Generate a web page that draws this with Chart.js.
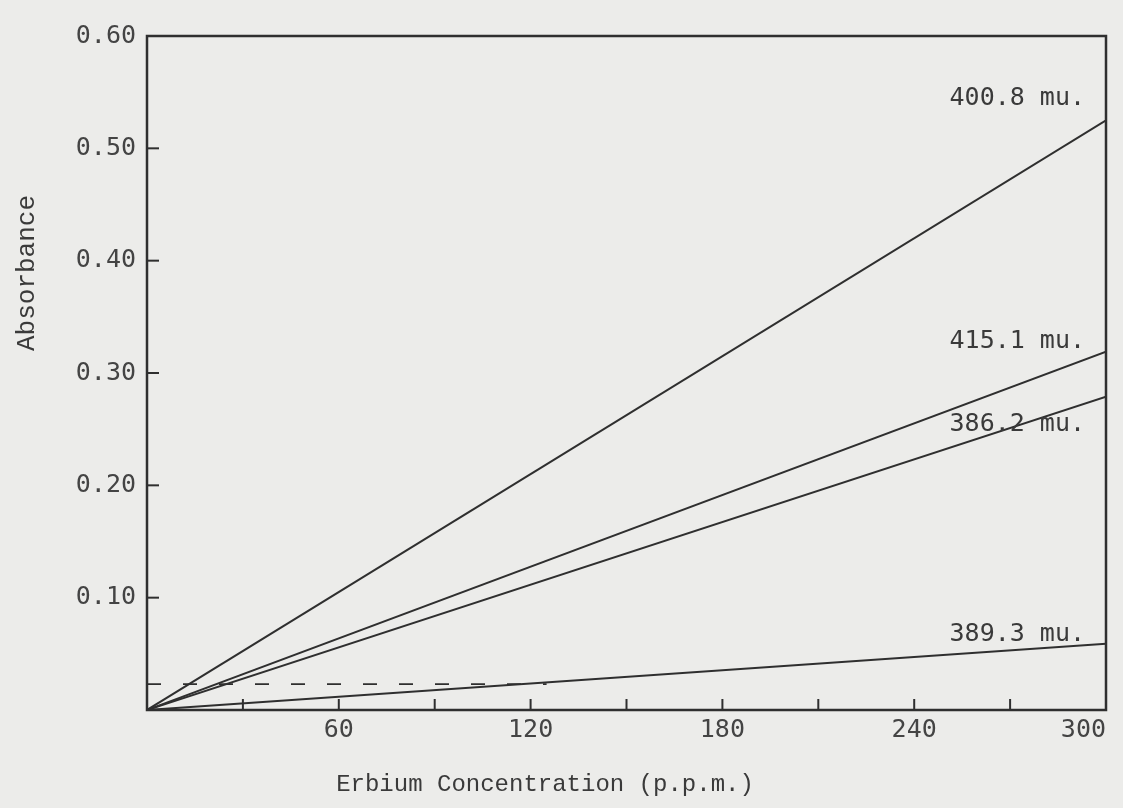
<!DOCTYPE html>
<html>
<head>
<meta charset="utf-8">
<script src="https://cdn.jsdelivr.net/npm/chart.js@4.4.1/dist/chart.umd.min.js"></script>
<style>
  html, body { margin: 0; padding: 0; background: #ececea; }
  #wrap { width: 1123px; height: 808px; position: relative; }
</style>
</head>
<body>
<div id="wrap"><canvas id="chart" width="1123" height="808"></canvas></div>
<script>
// erbium calibration lines
const concentration = [0, 300];
const abs4008 = [0, 0.525];
const abs4151 = [0, 0.319];
const abs3862 = [0, 0.279];
const abs3893 = [0, 0.059];
const blankConc = [0, 125];
const blankAbs = [0.023, 0.023];
const seriesLabels = ["400.8 mu.", "415.1 mu.", "386.2 mu.", "389.3 mu."];
const xTickLabels = [60, 120, 180, 240, 300];
const yTickLabels = [0.1, 0.2, 0.3, 0.4, 0.5, 0.6];

const ink = "#2f2f2f";
const toPoints = (xs, ys) => xs.map((x, i) => ({ x, y: ys[i] }));

// label offsets (px) relative to where each line meets the right edge
const labelShift = [-22, -10, 28, -9];

const paperPlugin = {
  id: "paper",
  beforeDraw(chart) {
    const { ctx, width, height } = chart;
    ctx.save();
    ctx.fillStyle = "#ececea";
    ctx.fillRect(0, 0, width, height);
    ctx.restore();
  },
  afterDraw(chart) {
    const { ctx, chartArea: a, scales } = chart;
    ctx.save();
    ctx.strokeStyle = ink;
    ctx.lineWidth = 2.5;
    ctx.strokeRect(a.left, a.top, a.right - a.left, a.bottom - a.top);

    // tick marks point inward
    ctx.lineWidth = 2;
    scales.x.ticks.forEach((t) => {
      if (t.value <= 0 || t.value >= 300) return;
      const px = scales.x.getPixelForValue(t.value);
      ctx.beginPath();
      ctx.moveTo(px, a.bottom);
      ctx.lineTo(px, a.bottom - 11);
      ctx.stroke();
    });
    scales.y.ticks.forEach((t) => {
      if (t.value <= 0 || t.value >= 0.59) return;
      const py = scales.y.getPixelForValue(t.value);
      ctx.beginPath();
      ctx.moveTo(a.left, py);
      ctx.lineTo(a.left + 12, py);
      ctx.stroke();
    });

    // wavelength labels at line ends
    ctx.fillStyle = "#3a3a3a";
    ctx.font = "25px 'DejaVu Sans Mono'";
    ctx.textAlign = "right";
    ctx.textBaseline = "middle";
    chart.data.datasets.slice(0, 4).forEach((ds, i) => {
      const end = ds.data[ds.data.length - 1];
      const py = scales.y.getPixelForValue(end.y) + labelShift[i];
      ctx.fillText(ds.label, scales.x.getPixelForValue(end.x) - 21, py);
    });

    // axis titles
    ctx.font = "24px 'Liberation Mono'";
    ctx.textAlign = "center";
    ctx.fillText("Erbium Concentration (p.p.m.)", 545, 785);
    ctx.translate(27, 273);
    ctx.rotate(-Math.PI / 2);
    ctx.font = "26px 'Liberation Mono'";
    ctx.fillText("Absorbance", 0, 0);
    ctx.restore();
  },
};

const lineStyle = { borderColor: ink, borderWidth: 2, pointRadius: 0, fill: false };

new Chart(document.getElementById("chart"), {
  type: "line",
  data: {
    datasets: [
      { label: seriesLabels[0], data: toPoints(concentration, abs4008), ...lineStyle },
      { label: seriesLabels[1], data: toPoints(concentration, abs4151), ...lineStyle },
      { label: seriesLabels[2], data: toPoints(concentration, abs3862), ...lineStyle },
      { label: seriesLabels[3], data: toPoints(concentration, abs3893), ...lineStyle },
      { label: "blank", data: toPoints(blankConc, blankAbs), ...lineStyle, borderWidth: 1.8, borderDash: [14, 22] },
    ],
  },
  options: {
    responsive: false,
    animation: false,
    layout: { padding: { left: 0, top: 36, right: 17, bottom: 0 } },
    plugins: { legend: { display: false }, tooltip: { enabled: false } },
    scales: {
      x: {
        type: "linear",
        min: 0,
        max: 300,
        afterFit: (s) => {
          s.height = 98;
          s.paddingLeft = 0;
          s.paddingRight = 0;
        },
        afterBuildTicks: (s) => {
          s.ticks = [0, 30, 60, 90, 120, 150, 180, 210, 240, 270, 300].map((v) => ({ value: v }));
        },
        ticks: {
          color: "#444",
          font: { family: "'DejaVu Sans Mono'", size: 25 },
          padding: -3,
          align: "inner",
          maxRotation: 0,
          autoSkip: false,
          callback: (v) => (xTickLabels.includes(v) ? String(v) : ""),
        },
        grid: { display: false },
        border: { display: false },
      },
      y: {
        min: 0,
        max: 0.6,
        afterFit: (s) => {
          s.width = 147;
          s.paddingTop = 0;
          s.paddingBottom = 0;
        },
        afterBuildTicks: (s) => {
          s.ticks = [0].concat(yTickLabels).map((v) => ({ value: v }));
        },
        ticks: {
          color: "#444",
          font: { family: "'DejaVu Sans Mono'", size: 25 },
          padding: 3,
          callback: (v) => (v === 0 ? "" : v.toFixed(2)),
        },
        grid: { display: false },
        border: { display: false },
      },
    },
  },
  plugins: [paperPlugin],
});
</script>
</body>
</html>
